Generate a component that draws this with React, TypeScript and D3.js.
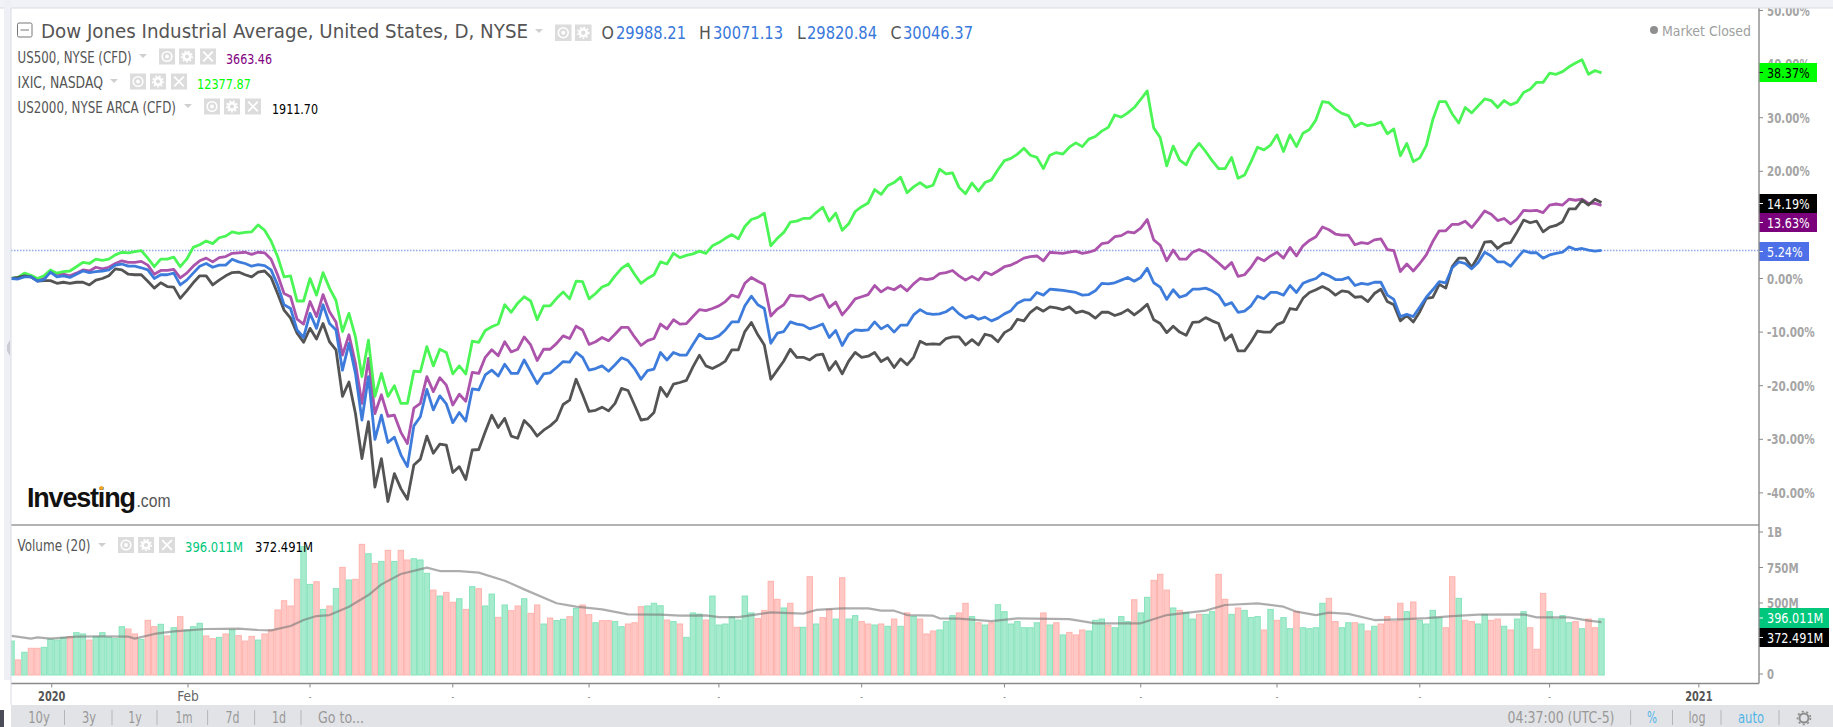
import * as d3 from 'd3';

const greenPct = [
  0, .2, 1, .6, 0, .5, 1.6, 1, 1.3, 1.4,
  2.2, 3, 2.8, 3.6, 3.4, 3.6, 4.4, 4.9, 4.8, 5,
  5.2, 3.8, 2.2, 3.6, 3.6, 4, 2.2, 3.6, 5.8, 6.3,
  7, 6.5, 7.6, 7.9, 8.7, 8.4, 8.6, 8.7, 10, 9,
  7, 4.1, .3, .5, -4.2, -4.2, 0, -3.1, 1.1, -1.8,
  -4.1, -9.9, -6.5, -10.9, -18.3, -11.5, -22, -17.7, -22, -20,
  -23.3, -23.3, -17.3, -17.4, -12.7, -16.3, -13.2, -13.8, -17.8, -16.3,
  -17.8, -11.7, -11.9, -9.7, -9, -8.5, -4.9, -6.3, -4.6, -3.4,
  -4.2, -7.7, -5.1, -5.1, -3.7, -2.5, -3.8, -.5, -.6, -3.8,
  -2.8, -1.6, -1.1, .5, 1.9, 2.7, .8, -.9, 0, .7,
  3.1, 2.7, 4.7, 3.9, 4.3, 4.6, 5.1, 4.7, 6.1, 6.7,
  7.5, 8.2, 7.4, 9.7, 11, 11.4, 12.2, 6.1, 7.5, 8.6,
  10.5, 10.7, 11.2, 11.2, 12.3, 13.3, 10.7, 12.2, 9, 10.2,
  12.5, 13.4, 14.1, 16.6, 15.7, 17.3, 17.9, 18.9, 16, 17.1,
  17.9, 17, 17.4, 20.4, 19.5, 19.7, 17, 15.8, 17.8, 16.3,
  17.9, 18.4, 20.3, 22, 22.4, 23.2, 24.3, 23, 22.6, 20.5,
  23, 23.5, 23.2, 24.5, 25.3, 24.6, 26, 26.5, 27.5, 28.2,
  30.5, 30.1, 30.9, 31.9, 33.4, 35, 28.1, 26.3, 21, 24.7,
  22.1, 21.2, 23.7, 25.2, 23.7, 22, 20.5, 20.5, 22.6, 18.7,
  19.3, 21.8, 24.5, 24, 24.9, 26.8, 23.7, 26.8, 24.6, 27.1,
  27.8, 29.6, 33, 32.8, 31.6, 30.8, 30.4, 28.3, 29, 28.5,
  28.7, 29.2, 27, 27.9, 22.9, 25.2, 21.8, 22.5, 24.8, 29.6,
  33, 33, 30.7, 29, 31.9, 30.9, 32.2, 33.5, 33.2, 31.9,
  33.2, 32.4, 32.9, 34.7, 35.3, 36.6, 36.6, 38.3, 38.1, 38.6,
  39.5, 40.2, 40.8, 38.1, 38.8, 38.37,
];

const purplePct = [
  0, 0, .5, .3, -.3, 0, 1.3, .8, .8, .5,
  1, 1.6, 1.4, 2.1, 1.8, 2.1, 2.8, 3.3, 3, 3,
  3.2, 2.5, .8, 1.5, 1.5, 1.7, .1, 1, 2.3, 3.3,
  3.8, 3.1, 3.9, 4.1, 4.7, 4.8, 4.9, 4.5, 4.9, 4.8,
  3.6, .7, -2.8, -3.4, -7.6, -8.5, -4.3, -7.1, -3, -6.2,
  -8.1, -14.3, -10.5, -15.8, -23.3, -14.9, -25.2, -21.7, -25.7, -25.5,
  -28.7, -30.8, -24.2, -23.3, -18.3, -21.1, -18.5, -19.9, -23.6, -21.6,
  -22.9, -17.5, -17.7, -14.7, -13.3, -14.4, -11.8, -13.7, -13.2, -10.9,
  -12.4, -15.3, -13.2, -13.2, -12.1, -10.7, -11.2, -8.9, -9.6, -12.3,
  -11.8, -11, -11.6, -10.4, -9.1, -9.1, -10.9, -12.5, -11.6, -11.2,
  -8.5, -9.4, -7.7, -8.5, -8.4, -7.1, -5.8, -6, -5.6, -5.1,
  -4.3, -3.1, -3.5, -.9, .2, -.5, -1.1, -7, -5.7, -4.9,
  -3.1, -3.3, -3.3, -4, -3.4, -3, -5.4, -4.4, -6.8, -5.4,
  -3.8, -3.4, -3, -1.3, -2.5, -1.7, -2.1, -1.3, -2.3, -1,
  0, -.2, 0, .9, 1.1, 1.5, .5, -.3, .4, -.3,
  1.2, .7, 1.4, 2.2, 2.5, 3.1, 3.8, 4.1, 4.2, 3.3,
  4.9, 4.8, 4.7, 4.9, 5.1, 4.7, 4.9, 5.3, 6.5, 6.7,
  7.8, 8, 8.7, 8.5, 9.4, 11, 7.2, 6.2, 3.3, 5.3,
  3.6, 3.6, 4.9, 5.4, 4.9, 3.9, 2.9, 1.8, 3, .4,
  .7, 2.1, 3.9, 3.3, 4.2, 4.9, 3.8, 5.8, 4.2, 6.1,
  7.1, 7.8, 9.6, 9.1, 8.3, 8.1, 8.1, 6.3, 6.7, 6.5,
  7.2, 7.4, 5.4, 5.2, 1.3, 2.7, 1.4, 2.8, 4.4, 6.9,
  8.9, 8.9, 10.1, 10.1, 10.7, 9.5, 11, 12.6, 12, 10.8,
  11.2, 10.2, 11.1, 12.7, 12.6, 12.7, 12.3, 13.7, 13.9, 13.7,
  14.8, 14.6, 14.8, 14, 14, 13.63,
];

const bluePct = [
  0, -.1, .3, .3, -.5, -.2, 1.2, .3, .5, .2,
  .8, 1.4, 1.1, 1.3, 1.4, 1.6, 2.5, 2.7, 2.3, 2.3,
  2, 1.6, 0, .7, .7, 1, -1.2, -.3, 1, 2.3,
  2.8, 2.1, 2.5, 2.5, 3.6, 3.1, 2.8, 2.3, 2.6, 2.4,
  1.6, -1.2, -4.9, -5.6, -9.6, -11, -6.5, -9.3, -4.9, -8.4,
  -9.6, -17.1, -12.1, -17.7, -26.4, -18.3, -30, -25.5, -30.6, -29.6,
  -32.9, -35.1, -27.5, -25.8, -20.7, -24.5, -21.9, -23.4, -26.9, -25,
  -26.6, -20.6, -20.8, -18, -17.1, -18.2, -16, -17.7, -17.7, -15.2,
  -17.4, -19.6, -17.8, -17.6, -16.6, -15.5, -15.6, -13.8, -14.7, -17.1,
  -16.8, -16.3, -17.3, -16.1, -14.8, -15.3, -16.8, -18.8, -17.2, -16.9,
  -13.8, -15.2, -13.8, -14.3, -14.3, -12.3, -10.4, -11.2, -11.2, -10.7,
  -9.6, -8.1, -8.1, -5.1, -3.3, -4.9, -5.6, -12.1, -10.2, -9.9,
  -8.1, -8.5, -8.7, -9.4, -9, -8.5, -11, -9.7, -12.5, -10.4,
  -9.6, -9.7, -9.6, -8.1, -9.4, -8.7, -10, -8.7, -8.7, -6.8,
  -5.8, -6.5, -6.7, -6.6, -6.2, -5.4, -6.6, -7.4, -6.9, -7.6,
  -7.2, -7.9, -7.4, -6.6, -6, -4.6, -4, -4, -2.6, -3.1,
  -2, -2.1, -2.2, -2.4, -2.6, -3.1, -3, -2.3, -.9, -1,
  -.8, -.3, .2, -.5, .2, 1.9, -.8, -1.6, -3.9, -2.1,
  -3.5, -3.1, -2, -2, -1.8, -2.3, -3.1, -5, -4.5, -6.3,
  -6.1, -5.1, -3.3, -3.8, -2.6, -2.6, -3.1, -1.3, -2.6, -.9,
  -.4, 0, 1, .5, -.2, -.2, .2, -1.3, -.9, -1.1,
  -.7, -.7, -3.1, -3.9, -7.1, -6.7, -7.1, -5.3, -3.5, -2.1,
  -.6, -.8, 2, 3.1, 2.8, 1.8, 3, 4.9, 4.2, 3.1,
  3.1, 2.3, 3.8, 5.2, 4.8, 4.8, 3.8, 4.4, 4.7, 4.9,
  5.9, 5.4, 5.6, 5.3, 5.1, 5.24,
];

const blackPct = [
  0, .2, .5, .3, -.5, -.4, -.4, -.9, -.7, -.9,
  -.7, -.7, -1.2, -.3, 0, .5, 1.8, 1.6, .8, .7,
  .7, -.5, -1.8, -.8, -1.5, -1.6, -3.7, -2.3, -.8, .5,
  .5, -1.2, -.3, .5, 1.1, 1.2, .7, .3, 1.2, 1.4,
  .2, -2.8, -5.9, -7.4, -10.2, -11.9, -9.3, -11.3, -8.4, -11.8,
  -13.3, -22, -19.3, -25.2, -33.6, -26.7, -38.9, -33.6, -41.6, -36.4,
  -39.2, -41.2, -34.8, -33.7, -29.4, -32.6, -30.9, -31.1, -36.2, -35.1,
  -37.5, -32, -31.9, -28.6, -25.5, -27.8, -26.1, -29.4, -29.8, -26.5,
  -27.7, -29.4, -28.3, -27.5, -26.4, -23.5, -22.7, -18.8, -21.7, -24.8,
  -24.6, -24, -24.7, -23.3, -20.5, -20.9, -23.6, -26.4, -26.2, -25,
  -20.3, -22, -19.7, -19.4, -19, -16.5, -14.3, -16.3, -16.8, -16.2,
  -15.4, -13.3, -13.3, -9.9, -8.2, -10.5, -12.4, -18.8, -17.1, -15.4,
  -13.2, -14.7, -14.7, -15.2, -14.3, -14.1, -17.1, -15.5, -17.8, -15.4,
  -13.8, -14.7, -14.5, -13.8, -15.5, -14.8, -16.6, -15, -16.1, -14.7,
  -11.7, -12.3, -12.2, -12.3, -11.2, -10.9, -10.9, -12.4, -11.4, -12.4,
  -10.4, -10.7, -11.8, -10.1, -9.4, -7.6, -7.9, -6.3, -5.4, -6.1,
  -5.3, -5.5, -5.8, -5.3, -6.4, -6.1, -6.5, -7.4, -6.3, -6.3,
  -6.9, -6.5, -5.8, -6.8, -5.9, -4.8, -7.7, -8.4, -10.1, -8.9,
  -10, -10.6, -8.2, -8.1, -7.3, -7.9, -8.4, -11.5, -10.5, -13.5,
  -13.5, -11.8, -9.8, -10, -10, -8.6, -8.1, -5.6, -5.8, -3.7,
  -2.6, -2.1, -1.5, -2.1, -3.1, -2.3, -2.5, -3.5, -3.4, -4.3,
  -2.8, -2, -4.3, -4.9, -7.9, -6.9, -8.1, -6.2, -3.7, -3.5,
  -1.1, -1.8, 2.2, 3.8, 3.8, 2.1, 4.1, 6.8, 6.9, 5.6,
  6.5, 6.7, 8.7, 10.9, 10.4, 10.7, 8.7, 9.6, 9.9, 10.6,
  13, 13, 14.6, 13.7, 14.8, 14.19,
];

// volume in millions, one per session
const volumes = [
  239, 106, 160, 188, 188, 195, 253, 246, 263, 270,
  298, 289, 246, 270, 298, 265, 256, 340, 324, 289,
  251, 385, 340, 357, 275, 333, 411, 317, 340, 364,
  275, 256, 265, 289, 317, 277, 239, 272, 246, 289,
  317, 458, 523, 486, 674, 904, 638, 657, 462, 486,
  608, 758, 669, 674, 920, 854, 786, 800, 878, 800,
  878, 810, 819, 810, 716, 598, 556, 582, 512, 537,
  462, 622, 608, 486, 570, 406, 493, 453, 486, 537,
  434, 493, 359, 401, 383, 392, 411, 469, 493, 425,
  368, 383, 383, 376, 340, 359, 368, 481, 486, 505,
  488, 387, 376, 359, 265, 437, 429, 387, 556, 352,
  359, 408, 387, 556, 437, 397, 455, 660, 533, 472,
  505, 336, 336, 692, 359, 404, 462, 394, 685, 394,
  418, 376, 359, 352, 359, 343, 394, 343, 437, 411,
  394, 289, 310, 317, 376, 418, 437, 505, 411, 368,
  352, 368, 495, 446, 359, 376, 333, 333, 368, 437,
  352, 368, 282, 300, 282, 317, 310, 385, 394, 350,
  333, 411, 376, 530, 437, 547, 667, 709, 598, 472,
  455, 441, 394, 427, 427, 446, 709, 533, 427, 472,
  455, 404, 411, 317, 462, 385, 404, 326, 446, 333,
  326, 333, 505, 540, 376, 333, 368, 368, 359, 310,
  343, 359, 411, 376, 505, 446, 514, 385, 359, 455,
  404, 333, 692, 540, 385, 376, 359, 427, 385, 394,
  343, 317, 394, 446, 333, 181, 575, 446, 394, 418,
  368, 376, 326, 394, 333, 396,
];

const volumeDirs = [
  'GRGRRGGGGR', 'GGRGGGGGRR', 'GRRGRGRGGG', 'RRGRGRRRGR', 'RRRRRGGRGR',
  'GRGRRGRGRG', 'RRGGGRGRRG', 'RGRGGRGRRG', 'RRGRGGRGRR', 'GRRGGRRRGG',
  'GRGRGGGRGG', 'GGGGGRRRRG', 'RRGRGRRGRG', 'GRRGRGRGRG', 'RRRGGGRRGR',
  'GRGGGGGGGR', 'GRGRRRGGGR', 'GGGRGGRRRG', 'RGGRGGRRGR', 'GGGRGRGGRG',
  'GGGRRGGRGR', 'GRRRRGRGGG', 'GRRGRRGGRR', 'GRGGRRRGGG', 'GRGRRG',
].join('');

// Volume (20) average, read at the sessions where the curve bends
const maSessions = [
  0, 3, 4, 6, 10, 14, 18, 19, 22, 25, 30, 35, 38, 40, 43, 45, 47, 49, 52, 55, 57, 60, 64, 66, 69, 72, 76, 79,
  84, 87, 91, 95, 100, 103, 107, 109, 112, 117, 122, 124, 128, 132, 134, 136, 138, 142, 143, 146, 151, 155,
  163, 167, 174, 178, 184, 187, 192, 196, 198, 201, 203, 206, 210, 214, 218, 222, 226, 233, 235, 240, 243, 245,
];
const maValues = [
  275, 256, 265, 256, 270, 272, 270, 256, 289, 307, 324, 326, 317, 314, 345, 387, 415, 422, 481, 563, 638, 711, 756, 732, 732, 721, 664, 603,
  505, 481, 462, 427, 425, 418, 420, 408, 408, 441, 432, 458, 469, 469, 453, 453, 422, 418, 399, 397, 380, 399,
  394, 364, 364, 422, 453, 493, 505, 481, 446, 422, 439, 430, 387, 392, 401, 415, 425, 427, 406, 406, 383, 372,
];

// 10.00% sits fully behind the 14.19% and 13.63% tags, so only its tick shows
const pctTicks = [50, 40, 30, 20, 10, 0, -10, -20, -30, -40];
const hiddenPctLabels = [10];
const volTicks = [1000, 750, 500, 0];
const volTickLabels = ['1B', '750M', '500M', '0'];
const timeTickSessions = [6.2, 27.2, 46, 68, 89, 109, 131, 153, 174, 195, 217, 237, 260];
const timeTickLabels = ['2020', 'Feb', '-', '-', '-', '-', '-', '-', '-', '-', '-', '-', '2021'];
const rangeButtons = ['10y', '3y', '1y', '1m', '7d', '1d'];

const FONT = "'DejaVu Sans Condensed', 'DejaVu Sans', sans-serif";
const LOGO_FONT = "'Liberation Sans', Arial, sans-serif";
const W = 1833;
const H = 727;
const LEFT = 11;
const AXIS_X = 1759;
const TOP = 8;
const SEP_Y = 525;
const BOTTOM_Y = 683.5;
const BAND_Y = 705;

const x = d3.scaleLinear().domain([0, 245]).range([11.5, 1601.5]);
const yPct = d3.scaleLinear().domain([-40, 50]).range([492.9, 10.5]);
const yVol = d3.scaleLinear().domain([0, 1000]).range([675, 533]);

const linePath = d3.line<number>().x((_, i) => x(i)).y((d) => yPct(d));
const maPath = d3.line<number>().x((_, i) => x(maSessions[i])).y((d) => yVol(d));

const lineSeries = [
  { name: 'US500', values: purplePct, color: '#a94da8' },
  { name: 'IXIC', values: greenPct, color: '#45f550' },
  { name: 'US2000', values: blackPct, color: '#4e4e4e' },
  { name: 'DJI', values: bluePct, color: '#3878db' },
];

// the chart's axis font is narrower than anything installed, so labels get squeezed to these widths
function axisLabelWidth(label: string) {
  const widths: Record<string, number> = { '.': 3.7, '%': 11, '-': 5, M: 10.6, B: 8 };
  return d3.sum(Array.from(label), (c) => widths[c] ?? 7);
}

function AxisText({ x: tx, y, label, color, bold }: { x: number; y: number; label: string; color: string; bold?: boolean }) {
  return (
    <text
      x={tx}
      y={y}
      fontSize={14.5}
      fontWeight={bold ? 700 : 400}
      fill={color}
      textLength={axisLabelWidth(label)}
      lengthAdjust="spacingAndGlyphs"
    >
      {label}
    </text>
  );
}

function Caret({ cx, cy }: { cx: number; cy: number }) {
  return <path d={`M${cx - 4},${cy - 2}L${cx + 4},${cy - 2}L${cx},${cy + 2}Z`} fill="#cfcfcf" />;
}

function IconBox({ x: bx, y: by, size, kind }: { x: number; y: number; size: number; kind: 'eye' | 'gear' | 'x' }) {
  const cx = bx + size / 2;
  const cy = by + size / 2;
  const r = size * 0.3;
  return (
    <g>
      <rect x={bx} y={by} width={size} height={size} fill="#dcdcdc" />
      {kind === 'eye' && (
        <g>
          <circle cx={cx} cy={cy} r={r} fill="none" stroke="#fff" strokeWidth={1.6} />
          <circle cx={cx} cy={cy} r={r * 0.4} fill="#fff" />
        </g>
      )}
      {kind === 'gear' && <circle cx={cx} cy={cy} r={r * 0.7} fill="none" stroke="#fff" strokeWidth={2.6} />}
      {kind === 'gear' && (
        <circle cx={cx} cy={cy} r={r * 1.1} fill="none" stroke="#fff" strokeWidth={1.6} strokeDasharray="1.8 1.8" />
      )}
      {kind === 'x' && (
        <path
          d={`M${cx - r},${cy - r}L${cx + r},${cy + r}M${cx + r},${cy - r}L${cx - r},${cy + r}`}
          stroke="#fff"
          strokeWidth={1.8}
        />
      )}
    </g>
  );
}

function LegendRow({ label, y, end, caret, icons, valueX, valueW, value, color }: {
  label: string; y: number; end: number; caret: number; icons: number[]; valueX: number; valueW: number; value: string; color: string;
}) {
  const kinds: ('eye' | 'gear' | 'x')[] = ['eye', 'gear', 'x'];
  return (
    <g>
      <text x={17.5} y={y} fontSize={15} fill="#555" textLength={end - 17.5} lengthAdjust="spacingAndGlyphs">{label}</text>
      <Caret cx={caret} cy={y - 7} />
      {icons.map((ix, i) => <IconBox key={i} x={ix} y={y - 14.5} size={16} kind={kinds[i]} />)}
      <text x={valueX} y={y + 1} fontSize={14.5} fill={color} textLength={valueW} lengthAdjust="spacingAndGlyphs">{value}</text>
    </g>
  );
}

function Badge({ y, w, h, fill, color, label }: { y: number; w: number; h: number; fill: string; color: string; label: string }) {
  return (
    <g>
      <rect x={AXIS_X} y={y} width={w} height={h} fill={fill} />
      <line x1={AXIS_X} x2={AXIS_X + 4} y1={y + h / 2} y2={y + h / 2} stroke={color} />
      <AxisText x={AXIS_X + 8} y={y + h / 2 + 5} label={label} color={color} />
    </g>
  );
}

export default function App() {
  const toolbarSeps = [64.5, 112, 157, 207.6, 254.6, 301];
  const toolbarCenters = [39, 89, 135, 184, 232.5, 279];
  const toolbarWidths = [21.7, 14, 13.5, 17, 14, 14];
  const ohlc = [
    { k: 'O', kx: 601.5, vx: 616, v: '29988.21' },
    { k: 'H', kx: 699, vx: 713, v: '30071.13' },
    { k: 'L', kx: 797, vx: 807, v: '29820.84' },
    { k: 'C', kx: 890.5, vx: 903, v: '30046.37' },
  ];

  return (
    <svg
      width={W}
      height={H}
      viewBox={`0 0 ${W} ${H}`}
      fontFamily={FONT}
      style={{ position: 'fixed', left: 0, top: 0, background: '#fff' }}
    >
      {/* Volume bars */}
      <g>
        {volumes.map((v, i) => {
          const up = volumeDirs[i] === 'G';
          const bx = Math.max(x(i) - 2.7, LEFT);
          return (
            <rect
              key={i}
              x={bx}
              y={yVol(v)}
              width={x(i) + 2.7 - bx}
              height={yVol(0) - yVol(v)}
              fill={up ? '#a6ebcd' : '#ffc8c4'}
              stroke={up ? '#86e3bb' : '#ffb3ae'}
              strokeWidth={1}
            />
          );
        })}
      </g>
      <path d={maPath(maValues) ?? ''} fill="none" stroke="#777" strokeOpacity={0.6} strokeWidth={2.2} strokeLinejoin="round" />

      {/* Price lines */}
      <line x1={LEFT} x2={AXIS_X} y1={yPct(5.24)} y2={yPct(5.24)} stroke="#8fa8ea" strokeWidth={1.5} strokeDasharray="1.5 1.5" />
      {lineSeries.map((s) => (
        <path
          key={s.name}
          d={linePath(s.values) ?? ''}
          fill="none"
          stroke={s.color}
          strokeWidth={2.8}
          strokeLinejoin="round"
          strokeOpacity={0.97}
        />
      ))}

      {/* Right axes */}
      {pctTicks.map((t) => (
        <g key={t} transform={`translate(${AXIS_X},${yPct(t)})`}>
          <line x1={0} x2={4} stroke="#8a8a8a" />
          {!hiddenPctLabels.includes(t) && <AxisText x={8} y={5} label={`${t.toFixed(2)}%`} color="#a5a5a5" bold />}
        </g>
      ))}
      {volTicks.map((t, i) => (
        <g key={t} transform={`translate(${AXIS_X},${yVol(t) - 1})`}>
          <line x1={0} x2={4} stroke="#8a8a8a" />
          <AxisText x={8} y={5} label={volTickLabels[i]} color="#a5a5a5" bold />
        </g>
      ))}
      <Badge y={63} w={58} h={19} fill="#00ff00" color="#000" label="38.37%" />
      <Badge y={194} w={58} h={19} fill="#000" color="#fff" label="14.19%" />
      <Badge y={213} w={58} h={19} fill="#7b007b" color="#fff" label="13.63%" />
      <Badge y={242} w={50} h={19} fill="#4d70e8" color="#fff" label="5.24%" />
      <Badge y={608} w={70} h={20} fill="#00c77b" color="#fff" label="396.011M" />
      <Badge y={628} w={70} h={19} fill="#000" color="#fff" label="372.491M" />

      {/* Pane frame */}
      <line x1={LEFT} x2={AXIS_X} y1={SEP_Y} y2={SEP_Y} stroke="#666" strokeWidth={1} />
      <line x1={LEFT} x2={AXIS_X} y1={BOTTOM_Y} y2={BOTTOM_Y} stroke="#8a8a8a" strokeWidth={1.4} />
      <line x1={AXIS_X} x2={AXIS_X} y1={TOP} y2={BOTTOM_Y} stroke="#8a8a8a" strokeWidth={1.4} />

      {/* Time axis */}
      {timeTickSessions.map((s, i) => {
        const label = timeTickLabels[i];
        const isYear = label.length === 4;
        const isNamed = label !== '-';
        return (
          <g key={s} transform={`translate(${x(s)},${BOTTOM_Y})`}>
            <line y1={0} y2={4} stroke="#8a8a8a" />
            <text
              y={isNamed ? 17 : 16}
              textAnchor="middle"
              fontSize={isNamed ? 14.5 : 8}
              fontWeight={isYear ? 700 : 400}
              fill={isYear ? '#555' : '#666'}
              textLength={isNamed ? (isYear ? 27.3 : 21.7) : undefined}
              lengthAdjust="spacingAndGlyphs"
            >
              {label}
            </text>
          </g>
        );
      })}

      {/* Legend */}
      <rect x={17.5} y={23} width={14.5} height={14} rx={1.5} fill="#fff" stroke="#777" />
      <line x1={20.5} x2={29} y1={30} y2={30} stroke="#777" />
      <text x={41} y={38} fontSize={19.5} fill="#555" textLength={487} lengthAdjust="spacingAndGlyphs">
        Dow Jones Industrial Average, United States, D, NYSE
      </text>
      <Caret cx={539} cy={31} />
      <IconBox x={555} y={24.5} size={16.5} kind="eye" />
      <IconBox x={575} y={24.5} size={16.5} kind="gear" />
      {ohlc.map((d) => (
        <g key={d.k} fontSize={17.5}>
          <text x={d.kx} y={39} fill="#555">{d.k}</text>
          <text x={d.vx} y={39} fill="#3878db" textLength={70} lengthAdjust="spacingAndGlyphs">{d.v}</text>
        </g>
      ))}
      <LegendRow label="US500, NYSE (CFD)" y={63} end={131.7} caret={143} icons={[159, 179, 200]} valueX={226} valueW={46} value="3663.46" color="#800080" />
      <LegendRow label="IXIC, NASDAQ" y={88} end={103} caret={114} icons={[130, 150, 171]} valueX={197} valueW={54} value="12377.87" color="#00ff00" />
      <LegendRow label="US2000, NYSE ARCA (CFD)" y={113} end={176} caret={188} icons={[204, 224, 245]} valueX={272} valueW={46} value="1911.70" color="#000" />

      <circle cx={1654} cy={30} r={4} fill="#8f8f8f" />
      <text x={1662} y={35.5} fontSize={14.5} fill="#a0a0a0" textLength={89} lengthAdjust="spacingAndGlyphs">Market Closed</text>

      {/* Volume legend */}
      <text x={17.5} y={551} fontSize={15} fill="#555" textLength={73} lengthAdjust="spacingAndGlyphs">Volume (20)</text>
      <Caret cx={102} cy={545} />
      <IconBox x={118} y={537} size={16} kind="eye" />
      <IconBox x={138} y={537} size={16} kind="gear" />
      <IconBox x={159} y={537} size={16} kind="x" />
      <text x={185} y={552} fontSize={14.5} fill="#00c77b" textLength={58} lengthAdjust="spacingAndGlyphs">396.011M</text>
      <text x={255} y={552} fontSize={14.5} fill="#000" textLength={58} lengthAdjust="spacingAndGlyphs">372.491M</text>

      {/* Logo */}
      <text x={27} y={506.5} fontFamily={LOGO_FONT} fontSize={27} fontWeight={700} fill="#111" letterSpacing={-1.2}>Investing</text>
      <circle cx={101.5} cy={488} r={2} fill="#f5a623" />
      <text x={136.5} y={506.5} fontFamily={LOGO_FONT} fontSize={18.5} fill="#555" textLength={34} lengthAdjust="spacingAndGlyphs">.com</text>

      {/* Outer chrome */}
      <rect x={0} y={0} width={W} height={TOP} fill="#f0f2f8" />
      <line x1={0} x2={W} y1={TOP} y2={TOP} stroke="#d9dce4" />
      <rect x={4} y={0} width={7} height={680} fill="#eef0f6" />
      <path d="M10,340 L7,345 L7,351 L10,356 Z" fill="#c9ccd2" />
      <line x1={LEFT} x2={LEFT} y1={TOP} y2={BAND_Y} stroke="#d9dce4" />
      <rect x={LEFT} y={BAND_Y} width={W - LEFT} height={H - BAND_Y} fill="#e2e3e6" />
      <rect x={0} y={710} width={4} height={17} fill="#4a4c58" />
      {rangeButtons.map((b, i) => (
        <g key={b}>
          <text x={toolbarCenters[i]} y={723} textAnchor="middle" fontSize={15} fill="#999" textLength={toolbarWidths[i]} lengthAdjust="spacingAndGlyphs">{b}</text>
          <line x1={toolbarSeps[i]} x2={toolbarSeps[i]} y1={710} y2={725} stroke="#b5b5b8" />
        </g>
      ))}
      <text x={318} y={723} fontSize={15} fill="#999" textLength={46} lengthAdjust="spacingAndGlyphs">Go to...</text>
      <text x={1507.5} y={723} fontSize={15} fill="#999" textLength={107} lengthAdjust="spacingAndGlyphs">04:37:00 (UTC-5)</text>
      {[1630.6, 1672.5, 1721, 1779].map((sx) => (
        <line key={sx} x1={sx} x2={sx} y1={710} y2={725} stroke="#b5b5b8" />
      ))}
      <text x={1652} y={723} textAnchor="middle" fontSize={15} fill="#52b5e6" textLength={10} lengthAdjust="spacingAndGlyphs">%</text>
      <text x={1697} y={723} textAnchor="middle" fontSize={15} fill="#999" textLength={17} lengthAdjust="spacingAndGlyphs">log</text>
      <text x={1751} y={723} textAnchor="middle" fontSize={15} fill="#52b5e6" textLength={26} lengthAdjust="spacingAndGlyphs">auto</text>
      <circle cx={1804} cy={718} r={4.5} fill="none" stroke="#8c8c8c" strokeWidth={2} />
      <circle cx={1804} cy={718} r={6.5} fill="none" stroke="#8c8c8c" strokeWidth={1.6} strokeDasharray="2 2.6" />
    </svg>
  );
}
